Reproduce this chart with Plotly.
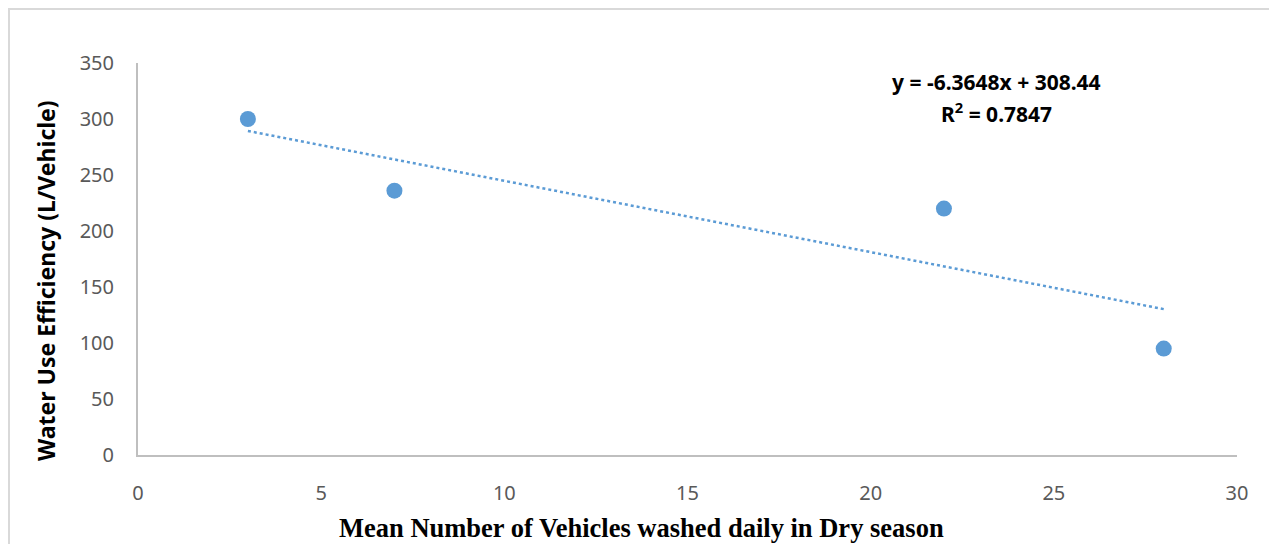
import plotly.graph_objects as go

# data
vehicles = [3, 7, 22, 28]
efficiency = [300, 236, 220, 95]

# linear trendline (y = -6.3648x + 308.44) endpoints at the data range
trend_x = [3, 28]
trend_y = [289.35, 130.23]

x_ticks = [0, 5, 10, 15, 20, 25, 30]
y_ticks = [0, 50, 100, 150, 200, 250, 300, 350]

blue = '#5B9BD5'
sans = 'Noto Sans, Liberation Sans, sans-serif'
tick_font = dict(family=sans, size=20, color='#595959')

fig = go.Figure()

fig.add_trace(go.Scatter(
    x=trend_x, y=trend_y,
    mode='lines',
    line=dict(color=blue, width=2.5, dash='dot'),
    showlegend=False,
    hoverinfo='skip'
))

fig.add_trace(go.Scatter(
    x=vehicles, y=efficiency,
    mode='markers',
    marker=dict(color=blue, size=16),
    showlegend=False
))

# outer frame of the chart area
fig.add_shape(
    type='rect', xref='paper', yref='paper',
    x0=-0.1174, x1=1.0337, y0=-0.35, y1=1.1378,
    line=dict(color='#D9D9D9', width=2),
    layer='below'
)

# trendline equation
eq_font = dict(family=sans, size=21, color='#000000')
fig.add_annotation(
    x=0.781, y=0.9515, xref='paper', yref='paper',
    xanchor='center', yanchor='middle',
    text='<b>y = -6.3648x + 308.44</b>',
    showarrow=False, font=eq_font
)
fig.add_annotation(
    x=0.781, y=0.875, xref='paper', yref='paper',
    xanchor='center', yanchor='middle',
    text='<b>R<sup>2</sup> = 0.7847</b>',
    showarrow=False, font=eq_font
)

# axis titles
fig.add_annotation(
    x=0.4577, y=-0.186, xref='paper', yref='paper',
    xanchor='center', yanchor='middle',
    text='<b>Mean Number of Vehicles washed daily in Dry season</b>',
    showarrow=False,
    font=dict(family='Liberation Serif, Times New Roman, serif', size=26.5, color='#000000')
)
fig.add_annotation(
    x=-0.0837, y=0.444, xref='paper', yref='paper',
    xanchor='center', yanchor='middle', textangle=-90,
    text='<b>Water Use Efficiency (L/Vehicle)</b>',
    showarrow=False,
    font=dict(family=sans, size=23, color='#000000')
)

fig.update_layout(
    width=1277, height=544,
    margin=dict(l=130, r=48, t=55, b=97),
    paper_bgcolor='white',
    plot_bgcolor='white',
    xaxis=dict(
        range=[0, 30], tickvals=x_ticks,
        showgrid=False, zeroline=False,
        showline=True, linecolor='#BFBFBF', linewidth=2,
        ticks='outside', ticklen=19, tickcolor='rgba(0,0,0,0)',
        tickfont=tick_font
    ),
    yaxis=dict(
        range=[0, 350], tickvals=y_ticks,
        showgrid=False, zeroline=False,
        showline=True, linecolor='#BFBFBF', linewidth=2,
        ticks='outside', ticklen=18, tickcolor='rgba(0,0,0,0)',
        tickfont=tick_font
    )
)

fig.write_html("out.html")
